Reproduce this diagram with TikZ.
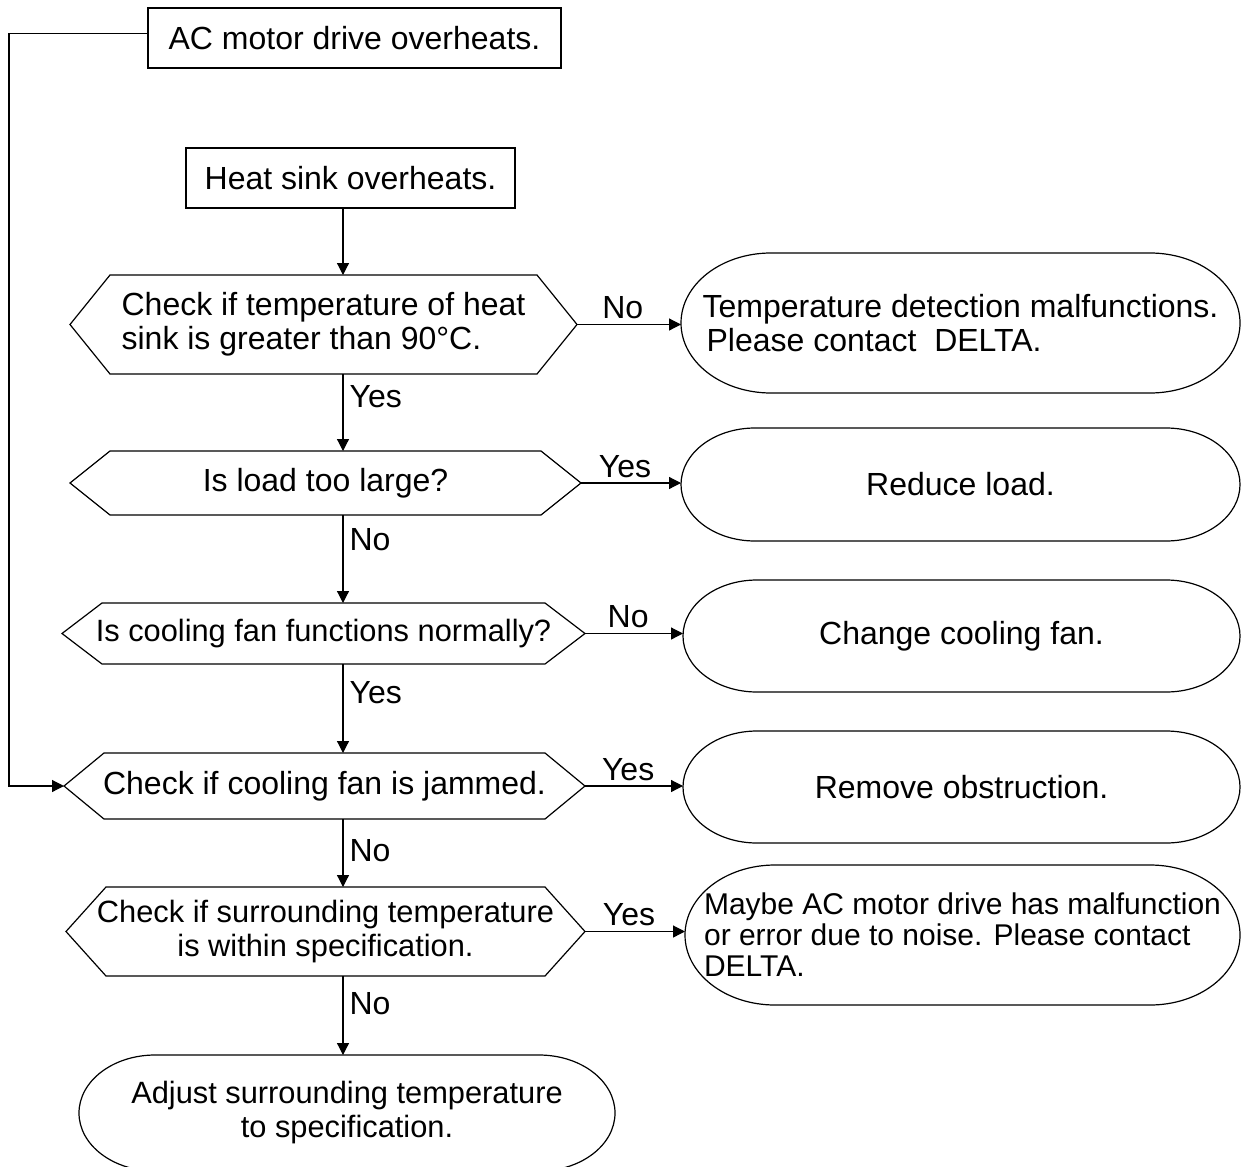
\documentclass[tikz,border=0pt]{standalone}
\usepackage{fontspec}
\setmainfont{Liberation Sans}
\usetikzlibrary{arrows.meta}

\begin{document}
\begin{tikzpicture}[x=0.5pt, y=-0.5pt, line width=0.6pt,
  txt/.style={inner sep=0pt, outer sep=0pt, font=\fontsize{16}{17}\selectfont},
  small/.style={font=\fontsize{15.4}{17}\selectfont},
  box/.style={txt, draw, minimum height=30pt},
  cond/.style={txt, align=center},
  term/.style={txt, align=center},
  arr/.style={-{Triangle[length=6pt,width=6pt]}},
  lbl/.style={inner sep=0pt, font=\fontsize{16}{17}\selectfont}
]
\useasboundingbox (0,0) rectangle (1245,1166);
\node[box, minimum width=206.5pt] (drive) at (354.5,38) {AC motor drive overheats.};
\node[box, minimum width=164.5pt] (sink) at (350.5,178) {Heat sink overheats.};
\node[cond, align=left, minimum width=253.5pt, minimum height=49.5pt] (chktemp) at (323.5,324.5) {Check if temperature of heat\\sink is greater than 90°C.};
\node[cond, minimum width=255.5pt, minimum height=32pt] (load) at (325.5,483) {Is load too large?};
\node[cond, small, minimum width=261.5pt, minimum height=30.5pt] (fan) at (323.5,633.5) {Is cooling fan functions normally?};
\node[cond, minimum width=260.5pt, minimum height=33pt] (jam) at (324.5,786) {Check if cooling fan is jammed.};
\node[cond, small, minimum width=259.5pt, minimum height=44.5pt] (surr) at (325.5,931.5) {Check if surrounding temperature\\is within specification.};
\node[term, align=left, minimum width=279.5pt, minimum height=70pt] (detect) at (960.5,323) {Temperature detection malfunctions.\\\hspace*{2pt}Please contact\ \ DELTA.};
\node[term, minimum width=279.5pt, minimum height=56.5pt] (reduce) at (960.5,484.5) {Reduce load.};
\node[term, minimum width=278.5pt, minimum height=56pt] (change) at (961.5,636) {Change cooling fan.};
\node[term, minimum width=278.5pt, minimum height=56pt] (remove) at (961.5,787) {Remove obstruction.};
\node[term, align=left, font=\fontsize{15}{15.5}\selectfont, minimum width=277.5pt, minimum height=70pt] (noise) at (962.5,935) {Maybe AC motor drive has malfunction\\or error due to noise. Please contact\\DELTA.};
\node[term, small, minimum width=268pt, minimum height=58pt] (adjust) at (347,1113) {Adjust surrounding temperature\\to specification.};

\foreach \n in {chktemp,load,fan,jam,surr}
  \draw ([xshift=20pt]\n.north west) -- ([xshift=-20pt]\n.north east) -- (\n.east)
    -- ([xshift=-20pt]\n.south east) -- ([xshift=20pt]\n.south west) -- (\n.west) -- cycle;
\foreach \n/\rx/\ry in {detect/45pt/35pt,reduce/37pt/28.25pt,change/37pt/28pt,remove/37pt/28pt,noise/45pt/35pt,adjust/38pt/29pt}
  \draw ([xshift=\rx]\n.north west) -- ([xshift=-\rx]\n.north east)
    arc[start angle=90, end angle=-90, x radius=\rx, y radius=\ry]
    -- ([xshift=\rx]\n.south west)
    arc[start angle=270, end angle=90, x radius=\rx, y radius=\ry] -- cycle;

\coordinate (spine) at (343,0);
\coordinate (back) at (9,33.5);
\draw[arr] ([yshift=2.25pt]drive.west) -- (back) |- (jam.west);
\draw[arr] (sink.south -| spine) -- (chktemp.north -| spine);
\draw[arr] (chktemp.south -| spine) -- node[lbl, pos=0.43, anchor=base west, xshift=3pt] {Yes} (load.north -| spine);
\draw[arr] (load.south -| spine) -- node[lbl, pos=0.40, anchor=base west, xshift=3pt] {No} (fan.north -| spine);
\draw[arr] (fan.south -| spine) -- node[lbl, pos=0.44, anchor=base west, xshift=3pt] {Yes} (jam.north -| spine);
\draw[arr] (jam.south -| spine) -- node[lbl, pos=0.62, anchor=base west, xshift=3pt] {No} (surr.north -| spine);
\draw[arr] (surr.south -| spine) -- node[lbl, pos=0.49, anchor=base west, xshift=3pt] {No} (adjust.north -| spine);

\draw[arr] (chktemp.east) -- node[lbl, pos=0.44, anchor=base, yshift=3pt] {No} (chktemp.east -| detect.west);
\draw[arr] (load.east) -- node[lbl, pos=0.44, anchor=base, yshift=3pt] {Yes} (load.east -| reduce.west);
\draw[arr] (fan.east) -- node[lbl, pos=0.44, anchor=base, yshift=3pt] {No} (fan.east -| change.west);
\draw[arr] (jam.east) -- node[lbl, pos=0.44, anchor=base, yshift=3pt] {Yes} (jam.east -| remove.west);
\draw[arr] (surr.east) -- node[lbl, pos=0.44, anchor=base, yshift=3pt] {Yes} (surr.east -| noise.west);
\end{tikzpicture}
\end{document}
